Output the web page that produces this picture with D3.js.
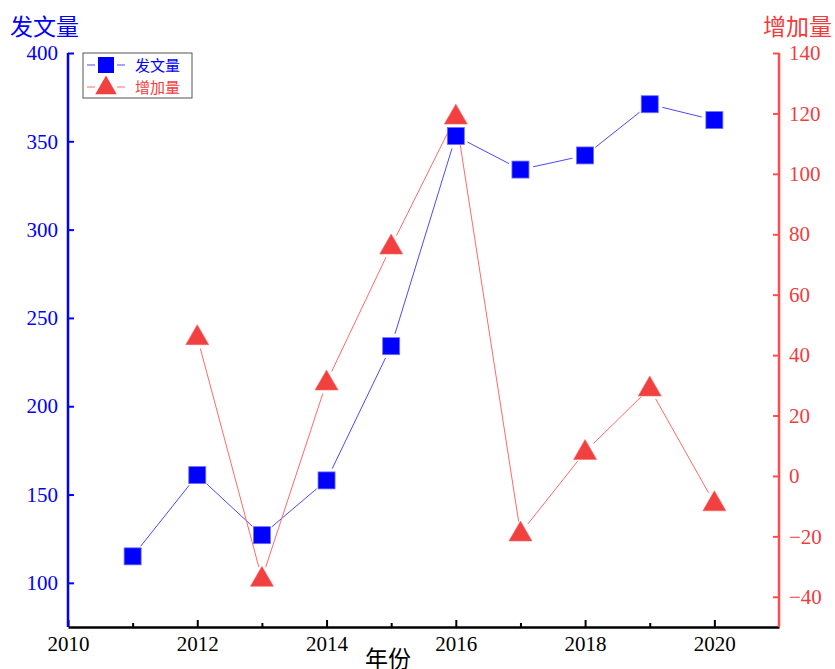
<!DOCTYPE html>
<html><head><meta charset="utf-8">
<script src="https://cdn.jsdelivr.net/npm/d3@7"></script>
<style>
body{margin:0;background:#fff;}
svg text{font-family:"Liberation Serif","Times New Roman",serif;}
svg text.cjk{font-family:"Noto Sans CJK SC","Noto Sans",sans-serif;}
</style></head>
<body><svg id="c" width="835" height="669"></svg>
<script>
// Yearly publication counts and their year-over-year change
const years = [2011, 2012, 2013, 2014, 2015, 2016, 2017, 2018, 2019, 2020];
const papers = [115, 161, 127, 158, 234, 353, 334, 342, 371, 362];
const increaseYears = [2012, 2013, 2014, 2015, 2016, 2017, 2018, 2019, 2020];
const increase = [46, -34, 31, 76, 119, -19, 8, 29, -9];
const xTicks = [2010, 2012, 2014, 2016, 2018, 2020];
const xMinorTicks = [2011, 2013, 2015, 2017, 2019];
const leftTicks = [100, 150, 200, 250, 300, 350, 400];
const rightTicks = [-40, -20, 0, 20, 40, 60, 80, 100, 120, 140];

const BLUE = "#0000ff", RED = "#f23c3c";
const svg = d3.select("#c");
const L = 68, R = 779, T = 53, B = 627;
const FS = 21;

const x = d3.scaleLinear().domain([2010, 2021]).range([L, R]);
const yL = d3.scaleLinear().domain([75, 400]).range([B, T]);
const yR = d3.scaleLinear().domain([-50, 140]).range([B, T]);

// Axes (ticks point inward)
const gx = svg.append("g").attr("transform", `translate(0,${B})`)
  .call(d3.axisBottom(x).tickValues(xTicks).tickFormat(d3.format("d")).tickSizeInner(-7).tickSizeOuter(0).tickPadding(9));
svg.append("g").attr("transform", `translate(0,${B})`)
  .call(d3.axisBottom(x).tickValues(xMinorTicks).tickFormat("").tickSizeInner(-4).tickSizeOuter(0))
  .call(g => g.select(".domain").remove())
  .selectAll("line").attr("stroke", "#000").attr("stroke-width", 2);
gx.select(".domain").attr("stroke", "#000").attr("stroke-width", 2.5);
gx.selectAll("line").attr("stroke", "#000").attr("stroke-width", 2);
gx.attr("font-size", FS).attr("font-family", null);
gx.selectAll("text").attr("fill", "#000");

const gl = svg.append("g").attr("transform", `translate(${L},0)`)
  .call(d3.axisLeft(yL).tickValues(leftTicks).tickSizeInner(-6).tickSizeOuter(0).tickPadding(10));
gl.select(".domain").attr("stroke", BLUE).attr("stroke-width", 2.5).attr("d", `M0,${B}V${T}`);
gl.selectAll("line").attr("stroke", BLUE).attr("stroke-width", 2);
gl.attr("font-size", FS).attr("font-family", null);
gl.selectAll("text").attr("fill", BLUE);

const gr = svg.append("g").attr("transform", `translate(${R},0)`)
  .call(d3.axisRight(yR).tickValues(rightTicks).tickSizeInner(-6).tickSizeOuter(0).tickPadding(10));
gr.select(".domain").attr("stroke", "#ff4d4d").attr("stroke-width", 2.5).attr("d", `M0,${B}V${T}`);
gr.selectAll("line").attr("stroke", "#ff4d4d").attr("stroke-width", 2);
gr.attr("font-size", FS).attr("font-family", null);
gr.selectAll("text").attr("fill", RED);

// Axis titles
svg.append("text").attr("class", "cjk").attr("x", 10).attr("y", 35).attr("font-size", 23).attr("fill", BLUE).text("发文量");
svg.append("text").attr("class", "cjk").attr("x", 832).attr("y", 35).attr("text-anchor", "end").attr("font-size", 23).attr("fill", RED).text("增加量");
svg.append("text").attr("class", "cjk").attr("x", 388).attr("y", 667).attr("text-anchor", "middle").attr("font-size", 23).attr("fill", "#000").text("年份");

// Connecting lines with small gaps at the markers
function gappedLines(xs, ys, sx, sy, color, gap) {
  const pts = xs.map((v, i) => [sx(v), sy(ys[i])]);
  const g = svg.append("g");
  for (let i = 0; i < pts.length - 1; i++) {
    const [x1, y1] = pts[i], [x2, y2] = pts[i + 1];
    const len = Math.hypot(x2 - x1, y2 - y1);
    if (len <= 2 * gap) continue;
    const ux = (x2 - x1) / len, uy = (y2 - y1) / len;
    g.append("line").attr("x1", x1 + ux * gap).attr("y1", y1 + uy * gap)
      .attr("x2", x2 - ux * gap).attr("y2", y2 - uy * gap)
      .attr("stroke", color).attr("stroke-width", 1);
  }
}
gappedLines(years, papers, x, yL, "#4a4aff", 13);
gappedLines(increaseYears, increase, x, yR, "#ff6a6a", 12);

const tri = d3.symbol().type(d3.symbolTriangle).size(230);
svg.append("g").selectAll("path").data(increaseYears).join("path")
  .attr("d", tri)
  .attr("transform", (d, i) => `translate(${x(d)},${yR(increase[i]) + 1})`)
  .attr("fill", "#f04040").attr("stroke", "#f66").attr("stroke-width", 0.6);

const S = 17;
svg.append("g").selectAll("rect").data(years).join("rect")
  .attr("x", d => x(d) - S / 2).attr("y", (d, i) => yL(papers[i]) - S / 2)
  .attr("width", S).attr("height", S)
  .attr("fill", BLUE).attr("stroke", "#6f6fff").attr("stroke-width", 0.8);

// Legend
const lg = svg.append("g").attr("transform", "translate(83,53)");
lg.append("rect").attr("x", 0).attr("y", 0).attr("width", 109).attr("height", 45)
  .attr("fill", "#fff").attr("stroke", "#555").attr("stroke-width", 1);
[[BLUE, "#4a4aff", "发文量", "sq"], [RED, "#ff6a6a", "增加量", "tri"]].forEach((e, i) => {
  const cy = 12 + i * 22;
  lg.append("line").attr("x1", 4).attr("x2", 12).attr("y1", cy).attr("y2", cy).attr("stroke", e[1]).attr("stroke-width", 1);
  lg.append("line").attr("x1", 34).attr("x2", 42).attr("y1", cy).attr("y2", cy).attr("stroke", e[1]).attr("stroke-width", 1);
  if (e[3] === "sq") {
    lg.append("rect").attr("x", 15).attr("y", cy - 8).attr("width", 16).attr("height", 16).attr("fill", BLUE);
  } else {
    lg.append("path").attr("d", d3.symbol().type(d3.symbolTriangle).size(200)).attr("transform", `translate(23,${cy + 1})`).attr("fill", "#f04040");
  }
  lg.append("text").attr("class", "cjk").attr("x", 52).attr("y", cy + 6).attr("font-size", 15).attr("fill", e[0]).text(e[2]);
});
</script></body></html>
